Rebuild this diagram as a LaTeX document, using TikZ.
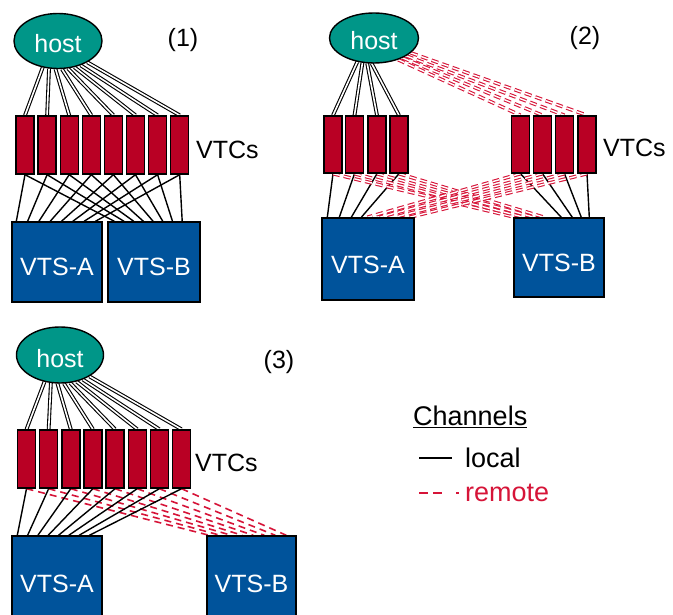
\documentclass[tikz,border=0pt]{standalone}
\usepackage{fontspec}
\setmainfont{Liberation Sans}
\usetikzlibrary{shapes.geometric,calc,backgrounds}
\definecolor{hostc}{RGB}{0,150,136}
\definecolor{vtcc}{RGB}{185,0,36}
\definecolor{vtsc}{RGB}{0,83,155}
\definecolor{remc}{RGB}{214,20,56}
\begin{document}
\begin{tikzpicture}[x=1pt,y=-1pt,
 txt/.style={font=\fontsize{25}{30}\selectfont, inner sep=0pt},
 legtxt/.style={font=\fontsize{27}{32}\selectfont, inner sep=0pt, anchor=west},
 hostn/.style={ellipse, draw=black, line width=1.4pt, fill=hostc, text=white, inner sep=0pt, minimum width=88pt, minimum height=55pt, font=\fontsize{25}{30}\selectfont, text height=24pt, text depth=0pt},
 vtc/.style={draw=black, line width=1.4pt, fill=vtcc, minimum width=18pt, minimum height=58pt, inner sep=0pt},
 vts/.style={draw=black, line width=1.4pt, fill=vtsc, text=white, inner sep=0pt, font=\fontsize{25}{30}\selectfont, text height=28pt, text depth=0pt},
 dbl/.style={draw=black, line width=1.1pt, double=white, double distance=1.6pt},
 loc/.style={draw=black, line width=1.4pt},
 remd/.style={draw=remc, line width=1.1pt, double=white, double distance=1.4pt, dash pattern=on 7pt off 4pt},
 rems/.style={draw=remc, line width=1.6pt, dash pattern=on 7pt off 5pt},
]
\useasboundingbox (0,0) rectangle (673,615);
\clip (0,0) rectangle (673,615);

% ---------- panel 1 ----------
\node[hostn] (h1) at (58,41) {host};
\foreach \i in {0,...,7} \node[vtc] (p1v\i) at ({25+22.1*\i},145) {};
\node[vts, minimum width=90pt, minimum height=80pt] (a1) at (57,262) {VTS-A};
\node[vts, minimum width=92pt, minimum height=80pt] (b1) at (154,262) {VTS-B};
\node[txt, anchor=west] (vt1) at (196,150) {VTCs};
\node[txt] (n1) at (183,40) {(1)};
\begin{pgfonlayer}{background}
\foreach \i/\a in {0/240,1/252,2/265,3/278,4/290,5/302,6/313,7/324}
  \draw[dbl] (h1.\a) -- (p1v\i.north);
\foreach \i in {0,...,7} {
  \draw[loc] (p1v\i.south) -- ($(a1.north west)+({5+11.3*\i},0)$);
  \draw[loc] (p1v\i.south) -- ($(b1.north west)+({7+9.7*\i},0)$);
}
\end{pgfonlayer}

% ---------- panel 2 ----------
\node[hostn, minimum width=89pt, minimum height=50pt] (h2) at (374,38) {host};
\foreach \i/\x in {0/333,1/354.5,2/377,3/399} \node[vtc, minimum height=57pt] (p2l\i) at (\x,144.5) {};
\foreach \i/\x in {0/520.5,1/542.5,2/564.5,3/587} \node[vtc, minimum height=57pt] (p2r\i) at (\x,144.5) {};
\node[vts, minimum width=92pt, minimum height=82pt] (a2) at (368,259) {VTS-A};
\node[vts, minimum width=90pt, minimum height=79pt] (b2) at (559,257.5) {VTS-B};
\node[txt, anchor=west] (vt2) at (603,148) {VTCs};
\node[txt] (n2) at (585,38) {(2)};
\begin{pgfonlayer}{background}
\foreach \i/\a in {0/235,1/245,2/255,3/265}
  \draw[dbl] (h2.\a) -- (p2l\i.north);
\foreach \i/\a in {0/318,1/325,2/331,3/338}
  \draw[remd] (h2.\a) -- (p2r\i.north);
\foreach \i/\o in {0/6,1/18,2/30,3/40}
  \draw[loc] (p2l\i.south) -- ($(a2.north west)+(\o,0)$);
\foreach \i/\o in {0/2,1/11,2/21,3/31}
  \draw[remd] (p2l\i.south) -- ($(b2.north west)+(\o,0)$);
\foreach \i/\o in {0/48,1/59,2/68,3/76}
  \draw[loc] (p2r\i.south) -- ($(b2.north west)+(\o,0)$);
\foreach \i/\o in {0/46,1/58,2/73,3/88}
  \draw[remd] (p2r\i.south) -- ($(a2.north west)+(\o,0)$);
\end{pgfonlayer}

% ---------- panel 3 ----------
\node[hostn, minimum width=87pt, minimum height=56pt] (h3) at (60,355) {host};
\foreach \i in {0,...,7} \node[vtc] (p3v\i) at ({26.5+22.15*\i},459) {};
\node[vts, minimum width=90pt, minimum height=84pt] (a3) at (57,578) {VTS-A};
\node[vts, minimum width=89pt, minimum height=84pt] (b3) at (251.5,578) {VTS-B};
\node[txt, anchor=west] (vt3) at (195,463) {VTCs};
\node[txt] (n3) at (279,362) {(3)};
\begin{pgfonlayer}{background}
\foreach \i/\a in {0/240,1/252,2/265,3/278,4/290,5/302,6/313,7/324}
  \draw[dbl] (h3.\a) -- (p3v\i.north);
\foreach \i in {0,...,7} {
  \draw[loc] (p3v\i.south) -- ($(a3.north west)+({6+10.3*\i},0)$);
  \draw[rems] (p3v\i.south) -- ($(b3.north west)+({3+11*\i},0)$);
}
\end{pgfonlayer}

% ---------- legend ----------
\node[legtxt] (chan) at (413,417) {\underline{Channels}};
\coordinate (l1) at (419,458);
\coordinate (l2) at (452,458);
\draw[loc] (l1) -- (l2);
\node[legtxt] (loct) at (465,458) {local};
\coordinate (r1) at (419,493);
\coordinate (r2) at (460,493);
\draw[draw=remc, line width=1.4pt, dash pattern=on 9pt off 5pt on 9pt off 14pt on 3pt off 20pt] (r1) -- (r2);
\node[legtxt, text=remc] (remt) at (465,493) {remote};
\end{tikzpicture}
\end{document}
